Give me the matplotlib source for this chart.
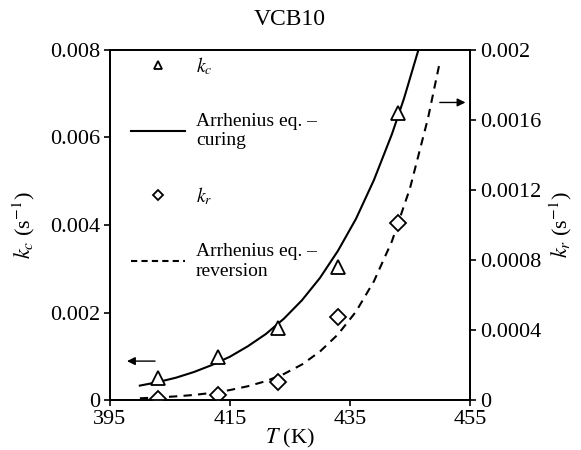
import matplotlib
matplotlib.use("Agg")
import matplotlib.pyplot as plt
from matplotlib.lines import Line2D

plt.rcParams["font.family"] = ["Liberation Serif", "DejaVu Serif"]
plt.rcParams["mathtext.fontset"] = "stix"

# measured rate constants
temps = [403, 413, 423, 433, 443]
kc = [0.00051, 0.00098, 0.00165, 0.00305, 0.00656]
kr = [0.000006, 0.00003, 0.000105, 0.000474, 0.00101]

# Arrhenius curves
t_cure = [400, 403, 406, 409, 412, 415, 418, 421, 424, 427, 430, 433, 436, 439, 442, 444, 446.4]
k_cure = [0.00033, 0.00041, 0.00051, 0.00064, 0.0008, 0.00099, 0.00123, 0.00151, 0.00186,
          0.00228, 0.00279, 0.00341, 0.00414, 0.00503, 0.00608, 0.00689, 0.008]
t_rev = [400, 403, 406, 409, 412, 415, 418, 421, 424, 427, 430, 433, 436, 439, 442, 445, 448, 449.9]
k_rev = [0.00001, 0.000015, 0.000021, 0.000029, 0.000041, 0.000057, 0.000079, 0.000108, 0.000149,
         0.000203, 0.000277, 0.000375, 0.000505, 0.000679, 0.000908, 0.00121, 0.00161, 0.00192]

x_ticks = [395, 415, 435, 455]
left_ticks = [0, 0.002, 0.004, 0.006, 0.008]
left_labels = ["0", "0.002", "0.004", "0.006", "0.008"]
right_ticks = [0, 0.0004, 0.0008, 0.0012, 0.0016, 0.002]
right_labels = ["0", "0.0004", "0.0008", "0.0012", "0.0016", "0.002"]

fig = plt.figure(figsize=(5.81, 4.5), dpi=100)
ax = fig.add_axes([0.189, 0.111, 0.62, 0.778])
ax2 = ax.twinx()

ax.plot(t_cure, k_cure, color="black", lw=1.5)
ax.plot(temps, kc, ls="none", marker="^", ms=10, mfc="white", mec="black", mew=1.3)
ax2.plot(t_rev, k_rev, color="black", lw=1.5, ls=(0, (4, 3)))
ax2.plot(temps, kr, ls="none", marker="D", ms=8, mfc="white", mec="black", mew=1.3)

ax.set_xlim(395, 455)
ax.set_ylim(0, 0.008)
ax2.set_ylim(0, 0.002)
ax.set_xticks(x_ticks)
ax.set_xticklabels([str(t) for t in x_ticks])
ax.set_yticks(left_ticks)
ax.set_yticklabels(left_labels)
ax2.set_yticks(right_ticks)
ax2.set_yticklabels(right_labels)

for a in (ax, ax2):
    for s in a.spines.values():
        s.set_linewidth(1.3)
    a.tick_params(direction="out", length=4, width=1.2, labelsize=16, pad=3)

ax.set_title("VCB10", fontsize=17, pad=18)
ax.set_xlabel("$T$ (K)", fontsize=16, labelpad=-1)
ax.set_ylabel("$k_c$ (s$^{-1}$)", fontsize=16, labelpad=9)
ax2.set_ylabel("$k_r$ (s$^{-1}$)", fontsize=16, rotation=90, labelpad=5)

# arrows pointing to the matching axis
ax.annotate("", xy=(397.4, 0.00089), xytext=(403, 0.00089),
            arrowprops=dict(arrowstyle="-|>", color="black", lw=1, mutation_scale=12))
ax2.annotate("", xy=(454.7, 0.0017), xytext=(449.5, 0.0017),
             arrowprops=dict(arrowstyle="-|>", color="black", lw=1, mutation_scale=12))

handles = [
    Line2D([], [], ls="none", marker="^", ms=6, mfc="white", mec="black", mew=1.3),
    Line2D([], [], color="black", lw=1.5),
    Line2D([], [], ls="none", marker="D", ms=5, mfc="white", mec="black", mew=1.3),
    Line2D([], [], color="black", lw=1.5, ls=(0, (3, 2))),
]
labels = ["$k_c$", "Arrhenius eq. –\ncuring", "$k_r$", "Arrhenius eq. –\nreversion"]
ax.legend(handles, labels, loc="upper left", frameon=False, fontsize=14,
          handlelength=2.8, handletextpad=0.55, labelspacing=1.85,
          bbox_to_anchor=(0.015, 1.03), borderaxespad=0.4)

fig.savefig("out.png", dpi=100)
